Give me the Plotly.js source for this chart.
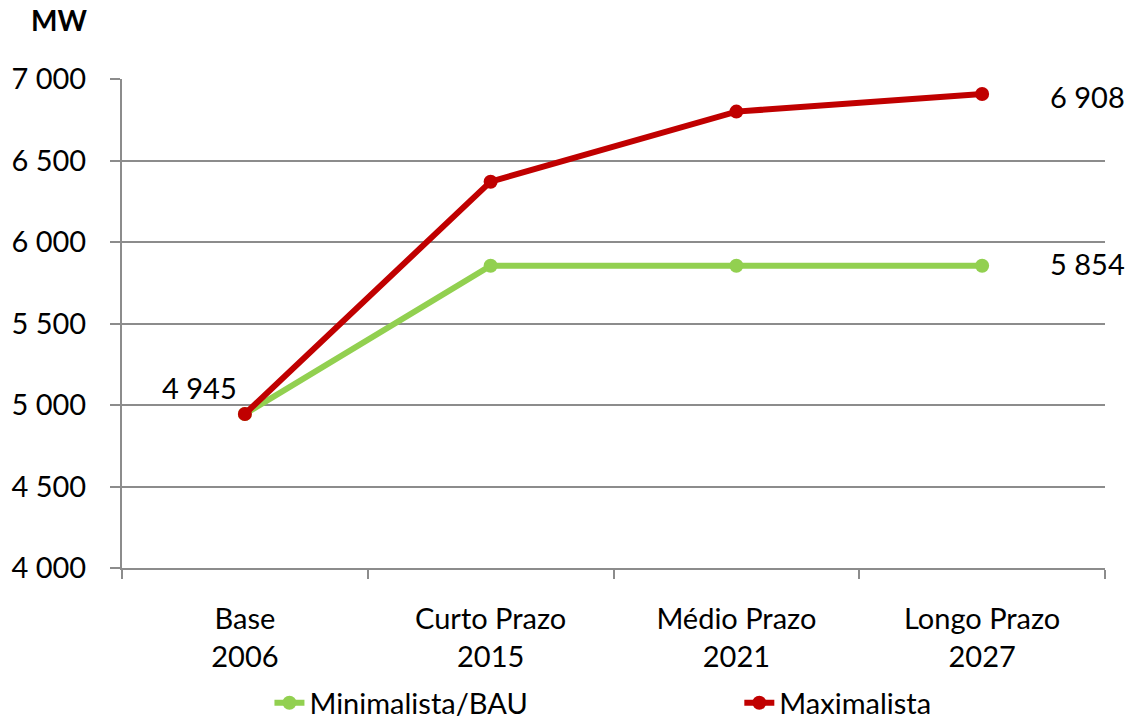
<!DOCTYPE html>
<html>
<head>
<meta charset="utf-8">
<script src="https://cdn.plot.ly/plotly-3.0.1.min.js"></script>
<style>html,body{margin:0;padding:0;background:#fff;}#chart{width:1132px;height:725px;}</style>
</head>
<body>
<div id="chart"></div>
<script>
const categories = ["Base<br>2006", "Curto Prazo<br>2015", "Médio Prazo<br>2021", "Longo Prazo<br>2027"];
const minimalista = [4945, 5854, 5854, 5854];
const maximalista = [4945, 6370, 6800, 6908];
const seriesNames = ["Minimalista/BAU", "Maximalista"];
const yTitle = "MW";

const FONT = "Lato, 'Open Sans', sans-serif";
const FS = 29;
const GRID = "#8c8c8c";
function fmt(v){ return String(v).replace(/\B(?=(\d{3})+(?!\d))/g, " "); }

const traces = [
  {x: categories, y: minimalista, name: seriesNames[0], type: "scatter", mode: "lines+markers",
   line: {color: "#92d050", width: 6}, marker: {color: "#92d050", size: 14}, legend: "legend"},
  {x: categories, y: maximalista, name: seriesNames[1], type: "scatter", mode: "lines+markers",
   line: {color: "#c00000", width: 6}, marker: {color: "#c00000", size: 14}, legend: "legend2"}
];

const n = categories.length - 1;
const legendBase = {orientation: "h", xanchor: "left", y: -0.276, yanchor: "middle",
  font: {family: FONT, size: FS, color: "#000"}, bgcolor: "rgba(0,0,0,0)"};
const layout = {
  width: 1132, height: 725,
  margin: {l: 122, r: 27, t: 79, b: 157, autoexpand: false},
  paper_bgcolor: "#fff", plot_bgcolor: "#fff",
  separators: ", ",
  font: {family: FONT, size: FS, color: "#000"},
  showlegend: true,
  legend: Object.assign({}, legendBase, {x: 0.15}),
  legend2: Object.assign({}, legendBase, {x: 0.628}),
  xaxis: {type: "category", range: [-0.5, n + 0.5], showgrid: false, zeroline: false,
          showline: true, linecolor: GRID, linewidth: 2, ticks: "outside", tickson: "boundaries",
          ticklen: 9, tickcolor: GRID, tickwidth: 2, ticklabelstandoff: 24,
          tickfont: {family: FONT, size: FS}},
  yaxis: {range: [4000, 7000], dtick: 500, tick0: 4000, tickformat: ",d", showgrid: true,
          gridcolor: GRID, gridwidth: 2, zeroline: false, showline: true, linecolor: GRID,
          linewidth: 2, ticks: "outside", ticklen: 10, tickcolor: GRID, tickwidth: 2,
          ticklabelstandoff: 18, tickfont: {family: FONT, size: FS}},
  annotations: [
    {xref: "paper", yref: "paper", x: -0.064, y: 1.12, text: "<b>" + yTitle + "</b>", showarrow: false,
     xanchor: "center", yanchor: "middle", font: {family: FONT, size: 28}},
    {x: categories[0], y: maximalista[0], text: fmt(maximalista[0]), showarrow: false,
     xanchor: "right", yanchor: "middle", xshift: -6, yshift: 26},
    {x: categories[n], y: maximalista[n], text: fmt(maximalista[n]), showarrow: false,
     xanchor: "left", yanchor: "middle", xshift: 66, yshift: -2},
    {x: categories[n], y: minimalista[n], text: fmt(minimalista[n]), showarrow: false,
     xanchor: "left", yanchor: "middle", xshift: 66, yshift: 2}
  ]
};

Plotly.newPlot("chart", traces, layout, {displayModeBar: false, staticPlot: true});
</script>
</body>
</html>
